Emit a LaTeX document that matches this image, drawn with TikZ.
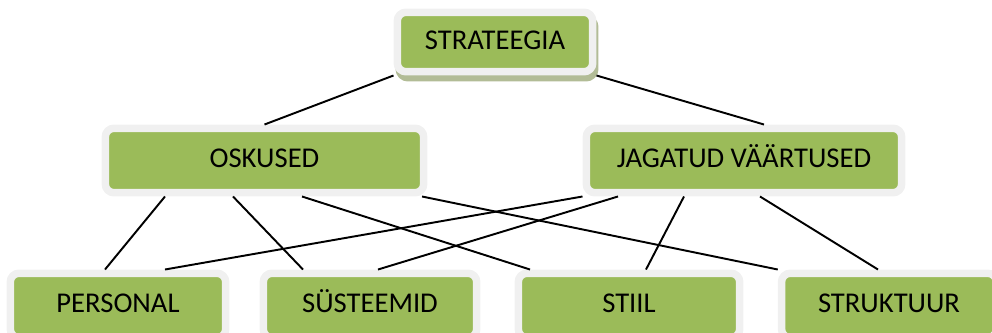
\documentclass[tikz,border=0pt]{standalone}
\usepackage{fontspec}
\setmainfont{Carlito}
\usetikzlibrary{calc,shadows}

\definecolor{boxgreen}{RGB}{155,187,89}
\definecolor{framegray}{RGB}{240,240,240}
\definecolor{shadowolive}{RGB}{178,188,150}

\begin{document}
\begin{tikzpicture}[x=0.02cm, y=-0.02cm,
    box/.style={draw=framegray, line width=0.15cm, fill=boxgreen,
      rounded corners=0.175cm, minimum height=1.29cm, inner sep=0pt,
      text height=10.5pt, text depth=2.3pt,
      font=\fontsize{16.3}{19}\selectfont},
    link/.style={line width=1.1pt}]
    \useasboundingbox (0,0) rectangle (992,332);

    % top: strateegia
    \node [box, minimum width=3.91cm, minimum height=1.19cm,
      drop shadow={shadow xshift=0.04cm, shadow yshift=-0.12cm, opacity=1,
        fill=shadowolive, draw=shadowolive, line width=0.15cm}]
      (strat) at (495,42) {STRATEEGIA};

    % middle row
    \node [box, minimum width=6.37cm] (osk) at (264.5,160.5) {OSKUSED};
    \node [box, minimum width=6.31cm] (jag) at (744,160.5)   {JAGATUD VÄÄRTUSED};

    % bottom row
    \node [box, minimum width=4.31cm] (per)    at (118,305.5) {PERSONAL};
    \node [box, minimum width=4.27cm] (syst)   at (370,305.5) {SÜSTEEMID};
    \node [box, minimum width=4.43cm] (stiil)  at (629,305.5) {STIIL};
    \node [box, minimum width=4.30cm] (strukt) at (889,305.5) {STRUKTUUR};

    % top to middle
    \draw [link] (strat.south west) -- (osk.north);
    \draw [link] (strat.south east) -- ($(jag.north)+(20,0)$);

    % oskused to bottom
    \draw [link] ($(osk.south)+(-99.5,0)$) -- ($(per.north)+(-13,0)$);
    \draw [link] ($(osk.south)+(-31.5,0)$) -- ($(syst.north)+(-67,0)$);
    \draw [link] ($(osk.south)+(37.5,0)$)  -- ($(stiil.north)+(-99,0)$);
    \draw [link] ($(osk.south)+(157.5,0)$) -- (strukt.north west);

    % jagatud vaartused to bottom
    \draw [link] (jag.south west)          -- ($(per.north)+(47,0)$);
    \draw [link] ($(jag.south)+(-126,0)$)  -- ($(syst.north)+(8,0)$);
    \draw [link] ($(jag.south)+(-60,0)$)   -- ($(stiil.north)+(17,0)$);
    \draw [link] ($(jag.south)+(16,0)$)    -- ($(strukt.north)+(-11,0)$);
\end{tikzpicture}
\end{document}
